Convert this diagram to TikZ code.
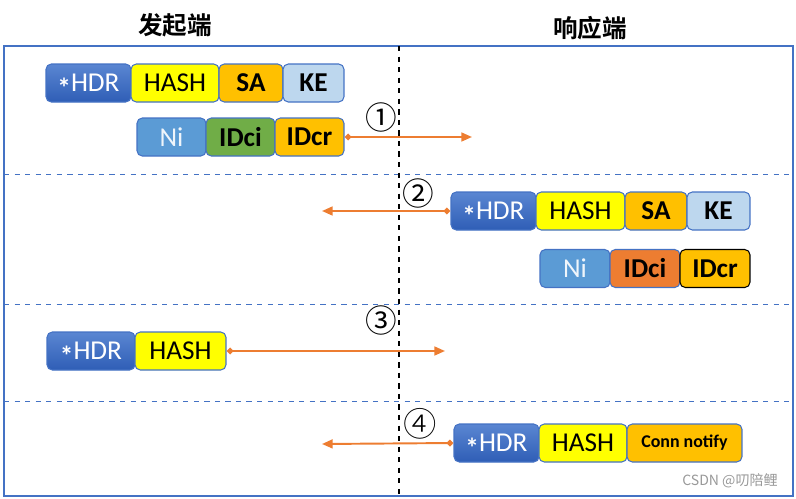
\documentclass[tikz,border=0pt]{standalone}
\usepackage{fontspec}
\setmainfont{Carlito}
\newfontfamily\cjk{Noto Sans CJK SC}
\newfontfamily\cjkb{Noto Sans CJK SC Bold}
\newfontfamily\cjkl{Noto Sans CJK SC Light}
\usetikzlibrary{arrows.meta}
\definecolor{bblue}{HTML}{4472C4}
\definecolor{hdrtop}{HTML}{5A86D2}
\definecolor{hdrbot}{HTML}{2F5EB6}
\definecolor{yel}{HTML}{FFFF00}
\definecolor{gold}{HTML}{FFC000}
\definecolor{lblue}{HTML}{BDD7EE}
\definecolor{mblue}{HTML}{5B9BD5}
\definecolor{grn}{HTML}{70AD47}
\definecolor{orng}{HTML}{ED7D31}
\newcommand\hdrtxt{\raisebox{-0.45ex}[0pt][0pt]{\bfseries *}HDR}
\tikzset{
  fld/.style={draw=bblue, line width=0.6pt, rounded corners=3pt, minimum height=0.76cm, inner sep=0pt, font=\fontsize{15.5}{17}\selectfont},
  bfld/.style={fld, font=\fontsize{15.5}{17}\selectfont\bfseries},
  hdr/.style={fld, top color=hdrtop, bottom color=hdrbot, text=white},
  hashf/.style={fld, fill=yel},
  goldf/.style={bfld, fill=gold},
  kef/.style={bfld, fill=lblue},
  nif/.style={fld, fill=mblue, text=white!90!mblue},
  msg/.style={draw=orng, line width=1.1pt, {Diamond[length=4pt,width=4pt,fill=orng]}-{Triangle[length=6pt,width=5pt,fill=orng]}},
  num/.style={font=\cjk\fontsize{18}{20}\selectfont},
  title/.style={font=\cjkb\fontsize{14}{16}\selectfont},
  sep/.style={draw=bblue, dashed, line width=0.5pt},
}
\begin{document}
\begin{tikzpicture}[x=0.02cm,y=-0.02cm]
\useasboundingbox (0,0) rectangle (796,498);
% frame
\draw[draw=bblue, line width=0.7pt] (4,46) rectangle (793,496);
\draw[sep] (4,174) -- (793,174);
\draw[sep] (4,304) -- (793,304);
\draw[sep] (4,401) -- (793,401);
\draw[black, dashed, line width=0.6pt] (399,46) -- (399,496);
% titles
\node[title] (t1) at (175,25) {发起端};
\node[title] (t2) at (590,28) {响应端};
% row 1
\node[hdr, minimum width=1.70cm] (h1) at (88.5,83) {\hdrtxt};
\node[hashf, minimum width=1.76cm] (s1) at (175,83) {HASH};
\node[goldf, minimum width=1.28cm] (a1) at (251,83) {SA};
\node[kef, minimum width=1.22cm] (k1) at (313.5,83) {KE};
\node[nif, minimum width=1.38cm] (n1) at (171.5,137) {Ni};
\node[bfld, fill=grn, minimum width=1.38cm] (c1) at (240.5,137) {IDci};
\node[goldf, minimum width=1.38cm] (r1) at (309.5,137) {IDcr};
\coordinate (e1) at (472,137);
\draw[msg] (r1.east) -- (e1);
\node[num] (m1) at (381,117) {①};
% row 2
\node[hdr, minimum width=1.70cm] (h2) at (493.5,211) {\hdrtxt};
\node[hashf, minimum width=1.78cm] (s2) at (580.5,211) {HASH};
\node[goldf, minimum width=1.24cm] (a2) at (656,211) {SA};
\node[kef, minimum width=1.26cm] (k2) at (718.5,211) {KE};
\node[nif, minimum width=1.40cm] (n2) at (575,268.5) {Ni};
\node[bfld, fill=orng, minimum width=1.40cm] (c2) at (645,268.5) {IDci};
\node[goldf, draw=black, minimum width=1.40cm] (r2) at (715,268.5) {IDcr};
\coordinate (e2) at (322,211);
\draw[msg] (h2.west) -- (e2);
\node[num] (m2) at (418,193) {②};
% row 3
\node[hdr, minimum width=1.76cm] (h3) at (91,351) {\hdrtxt};
\node[hashf, minimum width=1.82cm] (s3) at (180.5,351) {HASH};
\coordinate (e3) at (445,351);
\draw[msg] (s3.east) -- (e3);
\node[num] (m3) at (381,320) {③};
% row 4
\node[hdr, minimum width=1.70cm] (h4) at (496.5,443) {\hdrtxt};
\node[hashf, minimum width=1.76cm] (s4) at (583,443) {HASH};
\node[goldf, minimum width=2.30cm, font=\fontsize{10.2}{12}\selectfont\bfseries] (cn) at (684.5,443) {Conn notify};
\coordinate (e4) at (322,444);
\draw[msg] (h4.west) -- (e4);
\node[font=\cjkl\fontsize{19}{21}\selectfont] (m4) at (420,424) {④};
% watermark
\node[text=black!40, font=\cjk\fontsize{8}{10}\selectfont] (wm) at (730,481) {CSDN @叨陪鲤};
\end{tikzpicture}
\end{document}
